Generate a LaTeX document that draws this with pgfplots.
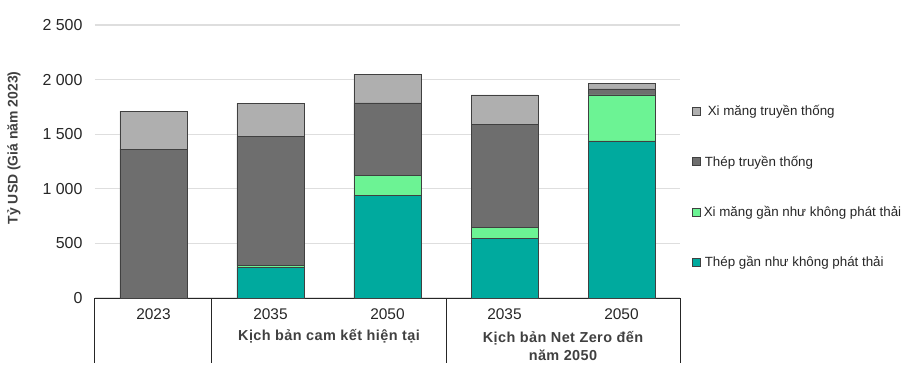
\documentclass[border=0pt]{standalone}
\usepackage{fontspec}
\setmainfont{Liberation Sans}
\usepackage{pgfplots}
\pgfplotsset{compat=1.18}
\definecolor{nzsteel}{HTML}{00AA9E}
\definecolor{nzcement}{HTML}{6CF394}
\definecolor{convsteel}{HTML}{6E6E6E}
\definecolor{convcement}{HTML}{AFAFAF}
\definecolor{txt}{HTML}{262626}
\definecolor{grp}{HTML}{404040}
\begin{document}
\begin{tikzpicture}
\path[use as bounding box] (-95bp,-70bp) rectangle (816bp,298bp);
\begin{axis}[
  scale only axis, width=585bp, height=273bp,
  ybar stacked, bar width=67bp,
  xmin=-0.5, xmax=4.5, ymin=0, ymax=2500,
  xtick={0,...,4}, xticklabels={2023,2035,2050,2035,2050},
  ytick={0,500,...,2500}, yticklabels={0,500,1 000,1 500,2 000,2 500},
  ymajorgrids, grid style={draw=black!13, line width=1.2bp},
  axis line style={draw=none}, major tick length=0pt,
  clip=false,
  yticklabel style={font=\fontsize{16}{18}\selectfont, text=txt, xshift=-9bp},
  xticklabel style={font=\fontsize{15.5}{18}\selectfont, text=txt, yshift=-7bp},
  ylabel={\textbf{Tỷ USD (Giá năm 2023)}},
  ylabel style={font=\fontsize{14}{16}\selectfont, text=grp, at={(axis description cs:-0.1385,0.55)}, anchor=center},
  every axis plot/.append style={draw=black!75, line width=0.8bp},
  every axis plot post/.append style={legend image code/.code={\draw[#1, draw=black!75, line width=0.8bp] (0bp,-4bp) rectangle (8bp,4bp);}},
  reverse legend,
  legend style={draw=none, fill=none, at={(1.015,0.407)}, anchor=west, row sep=34.5bp, font=\fontsize{13.4}{15}\selectfont, text=txt},
  legend cell align=left,
]
\addplot[fill=nzsteel] coordinates {(0,0) (1,277) (2,943) (3,546) (4,1438)};
\addlegendentry{\hspace{2bp}Thép gần như không phát thải}
\addplot[fill=nzcement] coordinates {(0,0) (1,19) (2,177) (3,98) (4,421)};
\addlegendentry{\hspace{1bp}Xi măng gần như không phát thải}
\addplot[fill=convsteel] coordinates {(0,1364) (1,1184) (2,666) (3,946) (4,55)};
\addlegendentry{\hspace{2bp}Thép truyền thống}
\addplot[fill=convcement] coordinates {(0,348) (1,303) (2,262) (3,269) (4,52)};
\addlegendentry{\hspace{5bp}Xi măng truyền thống}
\draw[black!85, line width=1bp] (axis cs:-0.5,0) -- (axis cs:4.5,0);
\draw[black!85, line width=1bp] (axis cs:-0.5,0) -- ([yshift=-65bp]axis cs:-0.5,0);
\draw[black!85, line width=1bp] (axis cs:0.5,0) -- ([yshift=-65bp]axis cs:0.5,0);
\draw[black!85, line width=1bp] (axis cs:2.5,0) -- ([yshift=-65bp]axis cs:2.5,0);
\draw[black!85, line width=1bp] (axis cs:4.5,0) -- ([yshift=-65bp]axis cs:4.5,0);
\node[font=\bfseries\fontsize{14.5}{18}\selectfont\addfontfeatures{LetterSpace=3}, text=grp, anchor=center, yshift=-38bp] at (axis cs:1.5,0) {Kịch bản cam kết hiện tại};
\node[font=\bfseries\fontsize{14.5}{18}\selectfont\addfontfeatures{LetterSpace=3}, text=grp, anchor=north, align=center, yshift=-30bp] at (axis cs:3.5,0) {Kịch bản Net Zero đến\\năm 2050};
\end{axis}
\end{tikzpicture}
\end{document}
